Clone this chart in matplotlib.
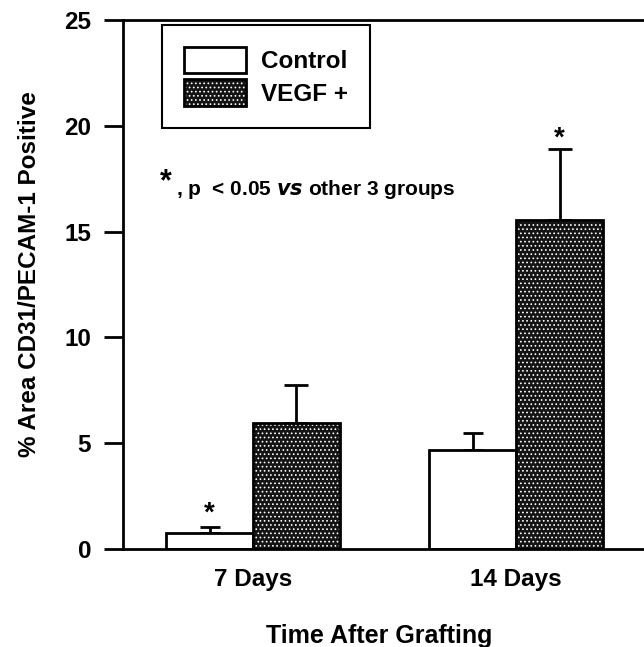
import matplotlib
matplotlib.use("Agg")
import matplotlib.pyplot as plt
import numpy as np
from matplotlib.patches import Patch
from matplotlib.legend_handler import HandlerTuple

plt.rcParams['font.family'] = ['Liberation Sans', 'DejaVu Sans']
plt.rcParams['font.weight'] = 'bold'
plt.rcParams['hatch.linewidth'] = 0.7

# data
groups = ['7 Days', '14 Days']
control = [0.75, 4.7]
control_err = [0.3, 0.8]
vegf = [5.95, 15.55]
vegf_err = [1.8, 3.35]
sig_control = [True, False]
sig_vegf = [False, True]

fig = plt.figure(figsize=(6.44, 6.47), dpi=100)
ax = fig.add_axes([123 / 644, 1 - 549 / 647, 530 / 644, 529 / 647])

x = np.arange(len(groups))
w = 0.33
dark = '#141414'
dots = '....'

# control bars (white)
ax.bar(x - w / 2, control, w, color='white', edgecolor='black', linewidth=2, zorder=2)
# VEGF bars: dotted texture then black outline
ax.bar(x + w / 2, vegf, w, color=dark, edgecolor='white', hatch=dots, linewidth=0, zorder=2)
ax.bar(x + w / 2, vegf, w, fill=False, edgecolor='black', linewidth=2, zorder=3)

ax.errorbar(x - w / 2, control, yerr=[np.zeros(2), control_err], fmt='none',
            ecolor='black', elinewidth=2, capsize=7.5, capthick=2, zorder=1)
ax.errorbar(x + w / 2, vegf, yerr=[np.zeros(2), vegf_err], fmt='none',
            ecolor='black', elinewidth=2, capsize=8.3, capthick=2, zorder=1)

for i in range(len(groups)):
    if sig_control[i]:
        ax.text(x[i] - w / 2, control[i] + control_err[i], '*', ha='center',
                va='bottom', fontsize=20, fontweight='bold')
    if sig_vegf[i]:
        ax.text(x[i] + w / 2, vegf[i] + vegf_err[i] - 0.1, '*', ha='center',
                va='bottom', fontsize=20, fontweight='bold')

ax.set_xlim(-0.494, 1.52)
ax.set_ylim(0, 25)
ax.set_yticks([0, 5, 10, 15, 20, 25])
ax.set_xticks(x)
ax.set_xticklabels(groups, fontsize=17.5, fontweight='bold')
ax.tick_params(axis='y', direction='out', length=14, width=2, labelsize=17.5, pad=9)
ax.tick_params(axis='x', length=0, pad=14)
for s in ax.spines.values():
    s.set_linewidth(2)
ax.spines['right'].set_visible(False)

ax.set_ylabel('% Area CD31/PECAM-1 Positive', fontsize=17.5, fontweight='bold')
ax.yaxis.set_label_coords(-0.155, 0.52)
ax.set_xlabel('Time After Grafting', fontsize=18, fontweight='bold', va='top')
ax.xaxis.set_label_coords(0.483, -0.142)

# annotation
ax.text(0.081, 0.679, '*', transform=ax.transAxes, fontsize=22, fontweight='bold',
        ha='center', va='baseline')
ax.text(0.1, 0.669, ', p  < 0.05 $\\mathbf{\\it{vs}}$ other 3 groups', transform=ax.transAxes,
        fontsize=15, fontweight='bold', ha='left', va='baseline')

# legend
h_ctrl = Patch(facecolor='white', edgecolor='black', linewidth=2)
h_v1 = Patch(facecolor=dark, edgecolor='white', hatch=dots, linewidth=0)
h_v2 = Patch(fill=False, edgecolor='black', linewidth=2)
leg = ax.legend([h_ctrl, (h_v1, h_v2)], ['Control', 'VEGF +'],
                handler_map={tuple: HandlerTuple(ndivide=1, pad=0)},
                loc='upper left', bbox_to_anchor=(0.0736, 0.9905), fontsize=17.5,
                handlelength=2.55, handleheight=1.3, handletextpad=0.62,
                borderpad=0.9, labelspacing=0.25, fancybox=False, framealpha=1,
                edgecolor='black', borderaxespad=0)
leg.get_frame().set_linewidth(1.5)

fig.savefig('out.png', dpi=100)
